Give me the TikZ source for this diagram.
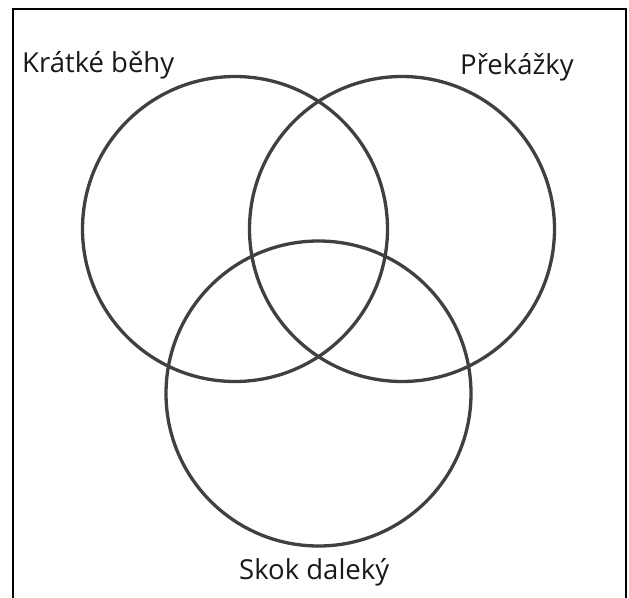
\documentclass[tikz,border=0pt]{standalone}
\usepackage{fontspec}
\setmainfont{Open Sans}
\begin{document}
\begin{tikzpicture}[x=1pt,y=-1pt,
  setcircle/.style={draw=black!75, line width=3.3pt, circle, minimum size=305pt, inner sep=0pt},
  setlabel/.style={anchor=base west, inner sep=0pt, text=black!90, font=\fontsize{27.5}{31}\selectfont}]
\useasboundingbox (0,0) rectangle (629,597);
\fill[white] (0,0) rectangle (629,597);
\begin{scope}
\clip (0,0) rectangle (629,597);
\draw[line width=2pt] (13,9) rectangle (626,620);
\end{scope}
\node[setcircle] (kb) at (235,229) {};
\node[setcircle] (pr) at (402,229) {};
\node[setcircle] (sd) at (318.5,393.5) {};
\node[setlabel] (tkb) at (22,72) {Krátké běhy};
\node[setlabel] (tpr) at (460,74) {Překážky};
\node[setlabel] (tsd) at (239,579) {Skok daleký};
\end{tikzpicture}
\end{document}
